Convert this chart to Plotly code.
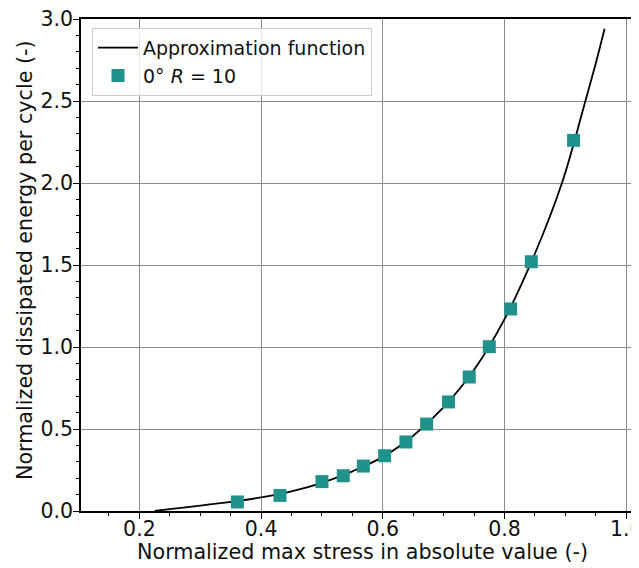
import plotly.graph_objects as go

# Measured data points (0° R = 10)
stress_pts = [0.361, 0.431, 0.500, 0.535, 0.568, 0.603, 0.638, 0.672, 0.708, 0.742, 0.775, 0.810, 0.844, 0.9135]
energy_pts = [0.055, 0.095, 0.179, 0.215, 0.274, 0.337, 0.421, 0.530, 0.665, 0.817, 1.002, 1.232, 1.520, 2.260]

# Approximation function
curve_x = [0.225, 0.25, 0.30, 0.35, 0.40, 0.45, 0.50, 0.55, 0.60, 0.65, 0.70, 0.75, 0.80, 0.85, 0.8944, 0.93, 0.95, 0.9645]
curve_y = [0.0, 0.012, 0.033, 0.056, 0.083, 0.12, 0.172, 0.242, 0.33, 0.459, 0.633, 0.861, 1.17, 1.57, 2.0, 2.46, 2.73, 2.94]

x_ticks = [0.2, 0.4, 0.6, 0.8, 1.0]
y_ticks = [0.0, 0.5, 1.0, 1.5, 2.0, 2.5, 3.0]

x_title = "Normalized max stress in absolute value (-)"
y_title = "Normalized dissipated energy per cycle (-)"

FONT = "DejaVu Sans"
TXT = "#111111"
PLOT_W = 639 - 73  # plot area width in px

fig = go.Figure()
fig.add_trace(go.Scatter(
    x=curve_x, y=curve_y, mode="lines", line=dict(color="black", width=1.8, shape="spline"),
    name="Approximation function"))
fig.add_trace(go.Scatter(
    x=stress_pts, y=energy_pts, mode="markers",
    marker=dict(symbol="square", size=13, color="#21918c", line=dict(width=0)),
    name="0° <i>R</i> = 10"))

fig.update_layout(
    width=639, height=568,
    margin=dict(l=73, r=0, t=11, b=65, autoexpand=False),
    paper_bgcolor="white", plot_bgcolor="white",
    font=dict(family=FONT, size=20, color=TXT),
    showlegend=True,
    legend=dict(x=11 / PLOT_W, y=0.982, xanchor="left", yanchor="top",
                bgcolor="rgba(255,255,255,0.8)", bordercolor="#cccccc", borderwidth=1,
                font=dict(family=FONT, size=19, color=TXT), tracegroupgap=0,
                itemwidth=40),
    annotations=[
        dict(text=x_title, xref="paper", yref="paper", x=0.497, y=-41 / 492,
             xanchor="center", yanchor="middle", showarrow=False,
             font=dict(family=FONT, size=20.7, color=TXT)),
        dict(text=y_title, xref="paper", yref="paper", x=-56 / PLOT_W, y=0.51,
             xanchor="center", yanchor="middle", showarrow=False, textangle=-90,
             font=dict(family=FONT, size=20.7, color=TXT)),
    ],
)

fig.update_xaxes(
    range=[0.104, 0.104 + PLOT_W / 608.5], tickvals=x_ticks, ticktext=[f"{v:.1f}" for v in x_ticks],
    showgrid=True, gridcolor="#8c8c8c", gridwidth=1,
    showline=True, linecolor="black", linewidth=1.8, mirror=True,
    ticks="outside", ticklen=6, tickcolor="black", tickwidth=1,
    minor=dict(dtick=0.05, tick0=0, ticks="outside", ticklen=3, tickcolor="black", showgrid=False),
    zeroline=False, automargin=False, ticklabelstandoff=-8, ticklabeloverflow="allow",
    tickfont=dict(size=20.5, family=FONT, color=TXT),
)
fig.update_yaxes(
    range=[0, 3.0], tickvals=y_ticks, ticktext=[f"{v:.1f}" for v in y_ticks],
    showgrid=True, gridcolor="#8c8c8c", gridwidth=1,
    showline=True, linecolor="black", linewidth=1.8,
    ticks="outside", ticklen=6, tickcolor="black", tickwidth=1,
    minor=dict(dtick=0.1, tick0=0, ticks="outside", ticklen=3, tickcolor="black", showgrid=False),
    zeroline=False, automargin=False, ticklabelstandoff=-4, ticklabeloverflow="allow",
    tickfont=dict(size=20.5, family=FONT, color=TXT),
)

fig.write_html("out.html")
